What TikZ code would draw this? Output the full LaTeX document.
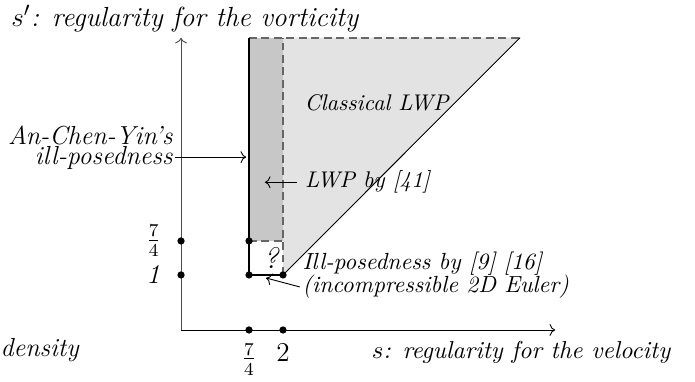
\documentclass[tikz,border=0pt]{standalone}
\usepackage{amsmath}
\usetikzlibrary{arrows.meta, positioning}

\begin{document}
\begin{tikzpicture}[
  lbl/.style={font=\itshape},
  dot/.style={circle, fill=black, inner sep=0pt, minimum size=3.2pt},
  arr/.style={->, thin},
  bound/.style={draw=black!60, thick, dash pattern=on 3.5pt off 2pt},
  wall/.style={draw=black, very thick}
]
\useasboundingbox (-2.806,-0.791) rectangle (7.967,5.115);

% corners of the regions
\coordinate (c1) at (1.054,0.853);
\coordinate (c2) at (1.581,0.853);
\coordinate (c3) at (1.054,1.380);
\coordinate (c4) at (1.581,1.380);
\coordinate (t1) at (1.054,4.53);
\coordinate (t2) at (1.581,4.53);
\coordinate (t3) at (5.255,4.53);

% shaded regions
\fill[black!11] (c2) -- (t3) -- (t2) -- cycle;
\fill[black!22] (c3) rectangle (t2);

% axes
\coordinate (O) at (0,0);
\draw[->, black!70] (O) -- (0,4.53) coordinate (ytop);
\draw[->] (O) -- (5.80,0) coordinate (xend);

% boundaries
\draw[bound] (t1) -- (t3);
\draw[bound] (c2) -- (t2);
\draw[bound] (c3) -- (c4);
\draw (c2) -- (t3);
\draw[wall] (t1) -- (c1) -- (c2);

% dots
\node[dot] (d1) at (c1) {};
\node[dot] (d2) at (c2) {};
\node[dot] (d3) at (c3) {};
\node[dot] (y74) at (O |- c3) {};
\node[dot] (y1) at (O |- c1) {};
\node[dot] (x74) at (O -| c1) {};
\node[dot] (x2) at (O -| c2) {};

% tick labels
\node[left=0.12cm of y74, font=\large] (ly74) {$\frac{7}{4}$};
\node[left=0.14cm of y1, font=\large\itshape] (ly1) {1};
\node[below=0.02cm of x74, font=\large] (lx74) {$\frac{7}{4}$};
\node[below=0.02cm of x2, font=\large] (lx2) {2};

% axis labels
\node[lbl, font=\fontsize{12.2}{14}\selectfont\itshape] (ylab) at (0.06,4.83) {$s'$: regularity for the vorticity};
\node[lbl, font=\fontsize{10.8}{13}\selectfont\itshape] (xlab) at (5.27,-0.34) {$s$: regularity for the velocity};
\node[lbl, font=\fontsize{11.5}{14}\selectfont\itshape] (dens) at (-2.19,-0.31) {density};

% region labels
\node[lbl] (classic) at (3.03,3.52) {Classical LWP};
\node[lbl, font=\fontsize{13}{15}\selectfont\itshape] (qm) at (1.395,1.116) {?};
\node[lbl, anchor=west] (lwp) at (1.80,2.29) {LWP by [41]};
\node[lbl, font=\fontsize{11.5}{13.5}\selectfont\itshape, align=right, anchor=north east, inner sep=1pt] (acy) at (-0.09,3.21) {An-Chen-Yin's\\[-4.5pt]ill-posedness};
\node[lbl, font=\fontsize{10.3}{12.4}\selectfont\itshape, align=left, anchor=north west] (ill) at (1.76,1.34) {Ill-posedness by [9] [16]\\[-1.9pt](incompressible 2D Euler)};

% pointers
\coordinate (acytip) at (1.01,2.68);
\coordinate (lwptip) at (1.30,2.29);
\coordinate (illtip) at (1.318,0.806);
\coordinate (illfoot) at (1.84,0.667);
\draw[arr] (acy.east |- acytip) -- (acytip);
\draw[arr] (lwp.west) -- (lwptip);
\draw[arr] (illfoot) -- (illtip);
\end{tikzpicture}
\end{document}
